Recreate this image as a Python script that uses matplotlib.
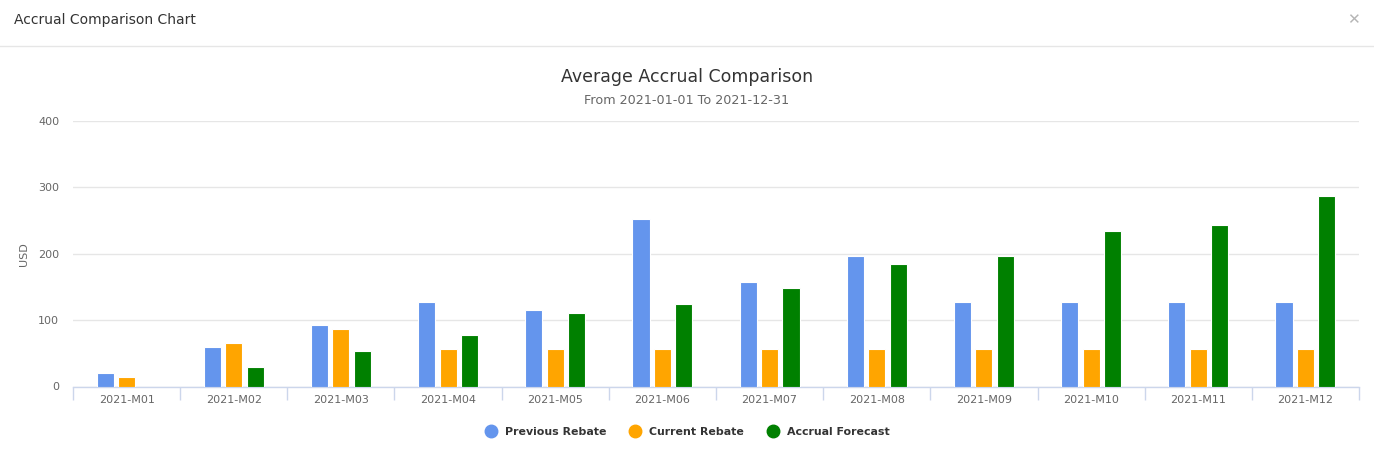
import matplotlib
matplotlib.use("Agg")
import matplotlib.pyplot as plt
from matplotlib.lines import Line2D
import numpy as np

categories = ["2021-M01", "2021-M02", "2021-M03", "2021-M04", "2021-M05", "2021-M06",
              "2021-M07", "2021-M08", "2021-M09", "2021-M10", "2021-M11", "2021-M12"]
previous_rebate = [20, 59, 92, 128, 116, 252, 157, 197, 127, 127, 127, 127]
current_rebate = [14, 66, 86, 56, 56, 56, 56, 56, 56, 56, 56, 56]
accrual_forecast = [0, 29, 53, 78, 110, 125, 148, 184, 196, 235, 244, 287]
series_names = ["Previous Rebate", "Current Rebate", "Accrual Forecast"]
colors = ["#6495ED", "#FFA500", "#008000"]
y_ticks = [0, 100, 200, 300, 400]

W, H = 1374, 468
fig = plt.figure(figsize=(W / 100, H / 100), dpi=100)
fig.patch.set_facecolor("white")

def fx(px):
    return px / W

def fy(py):
    return 1 - py / H

# header
fig.text(fx(14), fy(20), "Accrual Comparison Chart", fontsize=10, color="#333333",
         ha="left", va="center")
fig.text(fx(1353), fy(20), "\u2715", fontsize=11, color="#b5b5b5", ha="center", va="center")
fig.add_artist(Line2D([0, 1], [fy(46), fy(46)], color="#e6e6e6", lw=1))

fig.text(0.5, fy(77), "Average Accrual Comparison", fontsize=12.5, color="#333333",
         ha="center", va="center")
fig.text(0.5, fy(100), "From 2021-01-01 To 2021-12-31", fontsize=9.2, color="#666666",
         ha="center", va="center")

ax = fig.add_axes([fx(73), fy(386.5), fx(1359) - fx(73), fy(121) - fy(386.5)])
n = len(categories)
x = np.arange(n)
slot = 0.6 / 3
bar_w = slot * 0.8
for i, (vals, c) in enumerate(zip([previous_rebate, current_rebate, accrual_forecast], colors)):
    ax.bar(x - 0.3 + slot * (i + 0.5), vals, width=bar_w, color=c, edgecolor="white",
           linewidth=0.8, zorder=3)

ax.set_xlim(-0.5, n - 0.5)
ax.set_ylim(0, 400)
ax.set_yticks(y_ticks)
ax.set_yticklabels([str(v) for v in y_ticks], fontsize=8, color="#666666")
ax.yaxis.grid(True, color="#e6e6e6", lw=1, zorder=0)
ax.set_axisbelow(True)
ax.tick_params(axis="y", length=0, pad=10)
ax.set_xticks(x)
ax.set_xticklabels(categories, fontsize=8, color="#666666")
ax.set_xticks(np.arange(-0.5, n, 1), minor=True)
ax.tick_params(axis="x", which="major", length=0, pad=6)
ax.tick_params(axis="x", which="minor", length=9, color="#ccd6eb", width=1)
for s in ["top", "right", "left"]:
    ax.spines[s].set_visible(False)
ax.spines["bottom"].set_color("#ccd6eb")
ax.spines["bottom"].set_linewidth(1)
fig.text(fx(24), fy(254), "USD", rotation=90, fontsize=8, color="#666666",
         ha="center", va="center")

handles = [Line2D([0], [0], marker="o", color="none", markerfacecolor=c,
                  markeredgecolor=c, markersize=9) for c in colors]
leg = fig.legend(handles, series_names, loc="center", bbox_to_anchor=(0.5, fy(432)),
                 ncol=3, frameon=False, fontsize=7.9, handletextpad=0.7,
                 columnspacing=2.0, handlelength=1.2)
for t in leg.get_texts():
    t.set_color("#333333")
    t.set_fontweight("bold")

fig.savefig("out.png", dpi=100, facecolor="white")
